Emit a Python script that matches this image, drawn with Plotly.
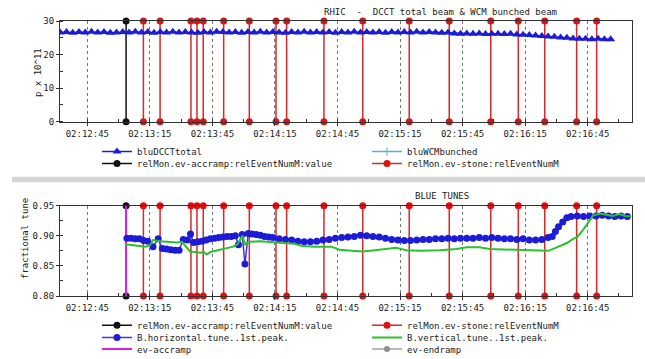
import plotly.graph_objects as go

DATE = "2024-01-01 "
MONO = "DejaVu Sans Mono"

X_RANGE = ["02:12:31.9", "02:17:06.1"]
TICK0 = "02:12:45"
TOP_RANGE = [0, 30]
BOT_RANGE = [0.80, 0.95]

EV_ACCRAMP = ["02:13:03.6"]
EV_STONE = ["02:13:11.9", "02:13:19.9", "02:13:34.7", "02:13:37.6", "02:13:40.6",
            "02:13:50.4", "02:14:02.7", "02:14:15.5", "02:14:20.6", "02:14:38.5",
            "02:14:57.1", "02:15:19.4", "02:15:38.6", "02:15:58.5", "02:16:11.7",
            "02:16:24.4", "02:16:39.7", "02:16:49.3"]

DCCT_T = ["02:12:32", "02:12:35", "02:12:38", "02:12:41", "02:12:44", "02:12:47", "02:12:50",
          "02:12:53", "02:12:56", "02:12:59",
          "02:13:02", "02:13:05", "02:13:08", "02:13:11", "02:13:14", "02:13:17", "02:13:20",
          "02:13:23", "02:13:26", "02:13:29", "02:13:32", "02:13:35", "02:13:38", "02:13:41",
          "02:13:44", "02:13:47", "02:13:50", "02:13:53", "02:13:56", "02:13:59",
          "02:14:02", "02:14:05", "02:14:08", "02:14:11", "02:14:14", "02:14:17", "02:14:20",
          "02:14:23", "02:14:26", "02:14:29", "02:14:32", "02:14:35", "02:14:38", "02:14:41",
          "02:14:44", "02:14:47", "02:14:50", "02:14:53", "02:14:56", "02:14:59",
          "02:15:02", "02:15:05", "02:15:08", "02:15:11", "02:15:14", "02:15:17", "02:15:20",
          "02:15:23", "02:15:26", "02:15:29", "02:15:32", "02:15:35", "02:15:38", "02:15:41",
          "02:15:44", "02:15:47", "02:15:50", "02:15:53", "02:15:56", "02:15:59",
          "02:16:02", "02:16:05", "02:16:08", "02:16:11", "02:16:14", "02:16:17", "02:16:20",
          "02:16:23", "02:16:26", "02:16:29", "02:16:32", "02:16:35", "02:16:38", "02:16:41",
          "02:16:44", "02:16:47", "02:16:50", "02:16:53", "02:16:56"]
DCCT_V = [26.6, 26.7, 26.5, 26.7, 26.6, 26.8, 26.6, 26.7, 26.5, 26.6,
          26.7, 26.6, 26.8, 26.6, 26.7, 26.5, 26.7, 26.6, 26.8, 26.6,
          26.7, 26.6, 26.5, 26.7, 26.6, 26.8, 26.7, 26.6, 26.7, 26.5,
          26.7, 26.6, 26.8, 26.6, 26.7, 26.6, 26.5, 26.7, 26.6, 26.8,
          26.6, 26.7, 26.6, 26.7, 26.5, 26.7, 26.6, 26.8, 26.6, 26.7,
          26.6, 26.7, 26.5, 26.7, 26.6, 26.7, 26.6, 26.8, 26.6, 26.7,
          26.6, 26.5, 26.6, 26.3, 26.2, 26.3, 26.2, 26.3, 26.1, 26.2,
          26.2, 26.1, 26.2, 26.0, 25.9, 25.8, 25.7, 25.5, 25.4, 25.3,
          25.1, 25.0, 24.8, 24.7, 24.7, 24.6, 24.7, 24.6, 24.6]

TUNE_H_T = ["02:13:04", "02:13:06", "02:13:08", "02:13:10", "02:13:12", "02:13:14", "02:13:16.5",
            "02:13:19", "02:13:21", "02:13:23", "02:13:25", "02:13:27", "02:13:29", "02:13:31",
            "02:13:33", "02:13:34.5", "02:13:36", "02:13:38", "02:13:40", "02:13:42", "02:13:44",
            "02:13:46", "02:13:48", "02:13:50", "02:13:52", "02:13:54", "02:13:56", "02:13:57.5",
            "02:13:59.3", "02:14:00.6", "02:14:02.2", "02:14:04", "02:14:06", "02:14:08",
            "02:14:10", "02:14:12", "02:14:14", "02:14:17", "02:14:20", "02:14:23", "02:14:26",
            "02:14:29", "02:14:32", "02:14:35", "02:14:38", "02:14:41", "02:14:44", "02:14:47",
            "02:14:50", "02:14:53", "02:14:56", "02:14:59", "02:15:02", "02:15:05", "02:15:08",
            "02:15:11", "02:15:14", "02:15:17", "02:15:20", "02:15:23", "02:15:26", "02:15:29",
            "02:15:32", "02:15:35", "02:15:38", "02:15:41", "02:15:44", "02:15:47", "02:15:50",
            "02:15:53", "02:15:56", "02:15:59", "02:16:02", "02:16:05", "02:16:08", "02:16:11",
            "02:16:14", "02:16:17", "02:16:20", "02:16:23", "02:16:26", "02:16:28", "02:16:29.5",
            "02:16:31", "02:16:33", "02:16:35", "02:16:37", "02:16:40", "02:16:43", "02:16:46",
            "02:16:49", "02:16:52", "02:16:55", "02:16:58", "02:17:01", "02:17:04"]
TUNE_H_V = [0.896, 0.896, 0.895, 0.895, 0.892, 0.891, 0.882,
            0.895, 0.879, 0.878, 0.877, 0.876, 0.876, 0.894,
            0.893, 0.903, 0.889, 0.890, 0.891, 0.893, 0.895,
            0.896, 0.897, 0.898, 0.899, 0.899, 0.900, 0.885,
            0.902, 0.853, 0.904, 0.903, 0.902, 0.901,
            0.899, 0.898, 0.897, 0.895, 0.894, 0.893, 0.891,
            0.890, 0.890, 0.891, 0.893, 0.894, 0.896, 0.897,
            0.898, 0.899, 0.901, 0.900, 0.899, 0.898, 0.896,
            0.894, 0.893, 0.892, 0.892, 0.893, 0.894, 0.894,
            0.895, 0.895, 0.896, 0.895, 0.896, 0.896, 0.896,
            0.897, 0.896, 0.897, 0.896, 0.895, 0.895, 0.894,
            0.895, 0.893, 0.893, 0.894, 0.897, 0.899, 0.907,
            0.915, 0.923, 0.930, 0.932, 0.933, 0.932, 0.933,
            0.933, 0.934, 0.933, 0.932, 0.933, 0.932]

TUNE_V_T = ["02:13:03", "02:13:05.5", "02:13:09", "02:13:13", "02:13:15", "02:13:16.5", "02:13:20",
            "02:13:24", "02:13:28", "02:13:30.4", "02:13:34.3", "02:13:37", "02:13:39", "02:13:41",
            "02:13:42.3", "02:13:44", "02:13:48", "02:13:52", "02:13:55", "02:13:57", "02:13:59.4",
            "02:14:00.6", "02:14:03", "02:14:08", "02:14:12", "02:14:18", "02:14:24", "02:14:28",
            "02:14:34", "02:14:42", "02:14:46", "02:14:52", "02:14:57", "02:15:03", "02:15:09",
            "02:15:13", "02:15:18", "02:15:25", "02:15:34", "02:15:42", "02:15:47", "02:15:53",
            "02:15:58", "02:16:05", "02:16:12", "02:16:20", "02:16:26", "02:16:29", "02:16:35",
            "02:16:38", "02:16:40", "02:16:42.8", "02:16:45.3", "02:16:47.6", "02:16:51",
            "02:16:54", "02:16:57", "02:17:00.4", "02:17:03", "02:17:06"]
TUNE_V_V = [0.886, 0.885, 0.883, 0.882, 0.884, 0.893, 0.891,
            0.890, 0.889, 0.890, 0.874, 0.873, 0.872, 0.873,
            0.869, 0.873, 0.876, 0.879, 0.882, 0.886, 0.900,
            0.886, 0.890, 0.891, 0.890, 0.889, 0.887, 0.883,
            0.882, 0.882, 0.877, 0.875, 0.874, 0.876, 0.879,
            0.880, 0.876, 0.875, 0.876, 0.878, 0.881, 0.881,
            0.878, 0.877, 0.876, 0.875, 0.875, 0.879, 0.888,
            0.895, 0.898, 0.910, 0.923, 0.934, 0.937,
            0.935, 0.933, 0.936, 0.933, 0.932]


def ts(times):
    return [DATE + t for t in times]


def segments(times, lo, hi):
    xs, ys = [], []
    for t in times:
        xs += [DATE + t, DATE + t, None]
        ys += [lo, hi, None]
    return xs, ys


BLACK = "#111111"
RED = "#d42a2a"
BLUE = "#1c1cd6"

fig = go.Figure()

# ---------- top panel ----------
ax, ay = segments(EV_ACCRAMP, *TOP_RANGE)
fig.add_trace(go.Scatter(x=ax, y=ay, mode="lines+markers", name="relMon.ev-accramp:relEventNumM:value",
                         line=dict(color=BLACK, width=1.5), marker=dict(color=BLACK, size=7),
                         xaxis="x", yaxis="y", legend="legend2", cliponaxis=False))
sx, sy = segments(EV_STONE, *TOP_RANGE)
fig.add_trace(go.Scatter(x=sx, y=sy, mode="lines+markers", name="relMon.ev-stone:relEventNumM",
                         line=dict(color=RED, width=1.5), marker=dict(color="#dd1111", size=7),
                         xaxis="x", yaxis="y", legend="legend2", cliponaxis=False))
fig.add_trace(go.Scatter(x=ts(DCCT_T), y=DCCT_V, mode="lines+markers", name="bluDCCTtotal",
                         line=dict(color=BLUE, width=1.5),
                         marker=dict(color=BLUE, size=8, symbol="triangle-up"),
                         xaxis="x", yaxis="y", legend="legend"))
fig.add_trace(go.Scatter(x=[None], y=[None], mode="lines+markers", name="bluWCMbunched",
                         line=dict(color="#5aaee0", width=1.5),
                         marker=dict(color="#5aaee0", size=6, symbol="line-ns-open",
                                     line=dict(color="#5aaee0", width=1)),
                         xaxis="x", yaxis="y", legend="legend"))

# ---------- bottom panel ----------
ax2, ay2 = segments(EV_ACCRAMP, *BOT_RANGE)
fig.add_trace(go.Scatter(x=ax2, y=ay2, mode="lines+markers", name="relMon.ev-accramp:relEventNumM:value",
                         line=dict(color=BLACK, width=1.5), marker=dict(color=BLACK, size=7),
                         xaxis="x2", yaxis="y2", legend="legend3", cliponaxis=False))
sx2, sy2 = segments(EV_STONE, *BOT_RANGE)
fig.add_trace(go.Scatter(x=sx2, y=sy2, mode="lines+markers", name="relMon.ev-stone:relEventNumM",
                         line=dict(color=RED, width=1.5), marker=dict(color="#dd1111", size=7),
                         xaxis="x2", yaxis="y2", legend="legend3", cliponaxis=False))
mx, my = segments(EV_ACCRAMP, *BOT_RANGE)
fig.add_trace(go.Scatter(x=mx, y=my, mode="lines", name="ev-accramp",
                         line=dict(color="#e01ee0", width=2),
                         xaxis="x2", yaxis="y2", legend="legend5"))
fig.add_trace(go.Scatter(x=[None], y=[None], mode="lines+markers", name="ev-endramp",
                         line=dict(color="#a0a0a0", width=1.5), marker=dict(color="#909090", size=6),
                         xaxis="x2", yaxis="y2", legend="legend5"))
fig.add_trace(go.Scatter(x=ts(TUNE_H_T), y=TUNE_H_V, mode="lines+markers",
                         name="B.horizontal.tune..1st.peak.",
                         line=dict(color="#3a3ae0", width=1.5),
                         marker=dict(color=BLUE, size=7),
                         xaxis="x2", yaxis="y2", legend="legend4"))
fig.add_trace(go.Scatter(x=ts(TUNE_V_T), y=TUNE_V_V, mode="lines",
                         name="B.vertical.tune..1st.peak.",
                         line=dict(color="#2cc02c", width=2),
                         xaxis="x2", yaxis="y2", legend="legend4"))

W, H = 645, 359
XDOM = [60 / W, 631.7 / W]
TOP_DOM = [1 - 121.7 / H, 1 - 21 / H]
BOT_DOM = [1 - 296 / H, 1 - 205.7 / H]

tickfont = dict(family=MONO, size=9, color="#222")


def xaxis(anchor):
    return dict(type="date", domain=XDOM, anchor=anchor,
                range=[DATE + X_RANGE[0], DATE + X_RANGE[1]],
                tick0=DATE + TICK0, dtick=30000, tickformat="%H:%M:%S",
                ticks="outside", ticklen=3, tickcolor="#333",
                showgrid=True, gridcolor="#777", griddash="dot", gridwidth=1,
                showline=True, linecolor="#333", linewidth=1, mirror=True,
                zeroline=False, tickfont=tickfont,
                minor=dict(dtick=15000, tick0=DATE + TICK0, ticks="inside", ticklen=3,
                           tickcolor="#333", showgrid=False))


def yaxis(anchor, domain, rng, dtick, minor_dtick, fmt=None):
    d = dict(domain=domain, anchor=anchor, range=rng, dtick=dtick, tick0=rng[0],
             ticks="outside", ticklen=3, tickcolor="#333",
             showgrid=False, showline=True, linecolor="#333", linewidth=1, mirror=True,
             zeroline=False, tickfont=tickfont,
             minor=dict(dtick=minor_dtick, tick0=rng[0], ticks="inside", ticklen=3,
                        tickcolor="#333", showgrid=False))
    if fmt:
        d["tickformat"] = fmt
    return d


def legend(x, ycenter):
    return dict(orientation="h", x=x / W, xanchor="left", y=1 - (ycenter - 15) / H, yanchor="top",
                font=dict(family=MONO, size=9, color="#222"), bgcolor="rgba(0,0,0,0)",
                entrywidth=225, entrywidthmode="pixels", traceorder="normal",
                itemclick=False, borderwidth=0)


ann_font = dict(family=MONO, size=9, color="#222")
fig.update_layout(
    width=W, height=H, margin=dict(l=0, r=0, t=0, b=0, autoexpand=False),
    paper_bgcolor="white", plot_bgcolor="white", showlegend=True,
    xaxis=xaxis("y"), yaxis=yaxis("x", TOP_DOM, TOP_RANGE, 10, 5),
    xaxis2=xaxis("y2"), yaxis2=yaxis("x2", BOT_DOM, BOT_RANGE, 0.05, 0.025, ".2f"),
    legend=legend(97, 152), legend2=legend(97, 164),
    legend3=legend(97, 325.7), legend4=legend(97, 338), legend5=legend(97, 349.5),
    annotations=[
        dict(text="RHIC  -  DCCT total beam & WCM bunched beam", x=441 / W, y=1 - 12 / H,
             xref="paper", yref="paper", showarrow=False, font=ann_font, xanchor="center", yanchor="middle"),
        dict(text="BLUE TUNES", x=441.5 / W, y=1 - 196 / H,
             xref="paper", yref="paper", showarrow=False, font=ann_font, xanchor="center", yanchor="middle"),
        dict(text="p x 10^11", x=38 / W, y=1 - 73 / H, textangle=-90,
             xref="paper", yref="paper", showarrow=False, font=ann_font, xanchor="center", yanchor="middle"),
        dict(text="fractional tune", x=25 / W, y=1 - 239 / H, textangle=-90,
             xref="paper", yref="paper", showarrow=False, font=ann_font, xanchor="center", yanchor="middle"),
    ],
    shapes=[dict(type="rect", xref="paper", yref="paper", x0=12 / W, x1=1,
                 y0=1 - 182.3 / H, y1=1 - 176.7 / H, fillcolor="#d6d6d6", line=dict(width=0),
                 layer="below")],
)

fig.write_html("out.html")
